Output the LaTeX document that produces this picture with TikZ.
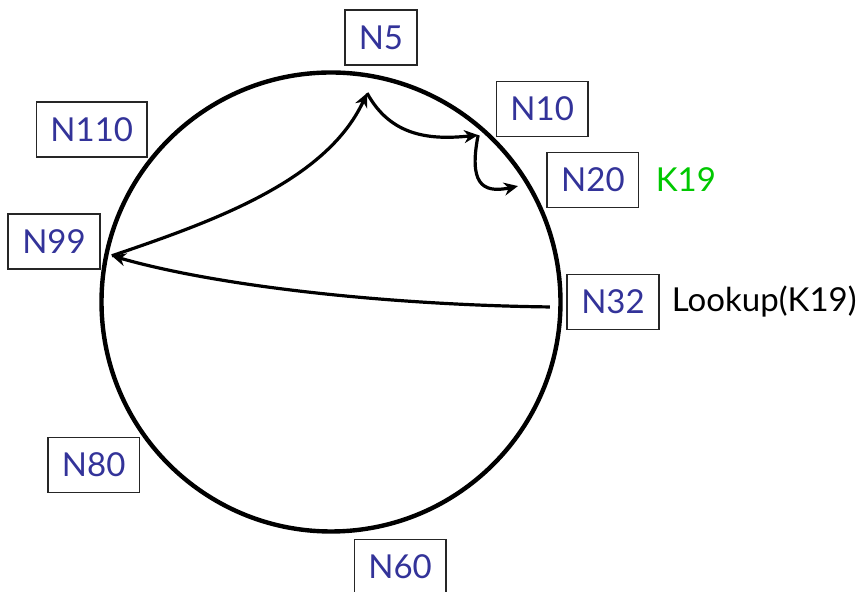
\documentclass[tikz,border=0pt]{standalone}
\usepackage{fontspec}
\setmainfont{Lato}
\usetikzlibrary{arrows.meta,positioning}
\definecolor{nodeblue}{RGB}{51,51,153}
\definecolor{keygreen}{RGB}{0,200,0}
\tikzset{
    ringnode/.style={rectangle, draw=black!85, line width=0.8pt, text=nodeblue, minimum height=27.5pt, inner xsep=7pt, font=\fontsize{16.5}{19}\selectfont},
    note/.style={inner sep=0pt, font=\fontsize{16.5}{19}\selectfont},
    hop/.style={-{Stealth[length=7pt,width=6.5pt]}, line width=1.6pt}
}
\begin{document}
\begin{tikzpicture}[x=0.5pt, y=0.5pt]
    \useasboundingbox (-331,-290) rectangle (530,302);
    \node[circle, draw, line width=2.2pt, minimum size=229.5pt, inner sep=0pt] (ring) at (0,0) {};

    \node[ringnode] (n5) at (79.3:269) {N5};
    \node[ringnode] (n10) at (42.4:286) {N10};
    \node[ringnode] (n20) at (25:289) {N20};
    \node[ringnode] (n32) at (0:282) {N32};
    \node[ringnode] (n60) at (-75.4:274) {N60};
    \node[ringnode] (n80) at (214.5:288) {N80};
    \node[ringnode] (n99) at (167.7:283.5) {N99};
    \node[ringnode] (n110) at (144.2:295) {N110};

    \node[note, text=keygreen, right=8pt of n20] (key) {K19};
    \node[note, right=6pt of n32] (lookup) {Lookup(K19)};

    \coordinate (h32) at (-1.3:219);
    \coordinate (h99) at (168.1:224);
    \coordinate (h5) at (80.2:212);
    \coordinate (h10) at (48.6:222.5);
    \coordinate (h20) at (31.8:220);

    \draw[hop] (h32) .. controls (60,-3) and (-110,15) .. (h99);
    \draw[hop] (h99) .. controls (-120,80) and (-5,120) .. (h5);
    \draw[hop] (h5) .. controls (60,165) and (100,162) .. (h10);
    \draw[hop] (h10) .. controls (138,120) and (150,108) .. (h20);
\end{tikzpicture}
\end{document}
